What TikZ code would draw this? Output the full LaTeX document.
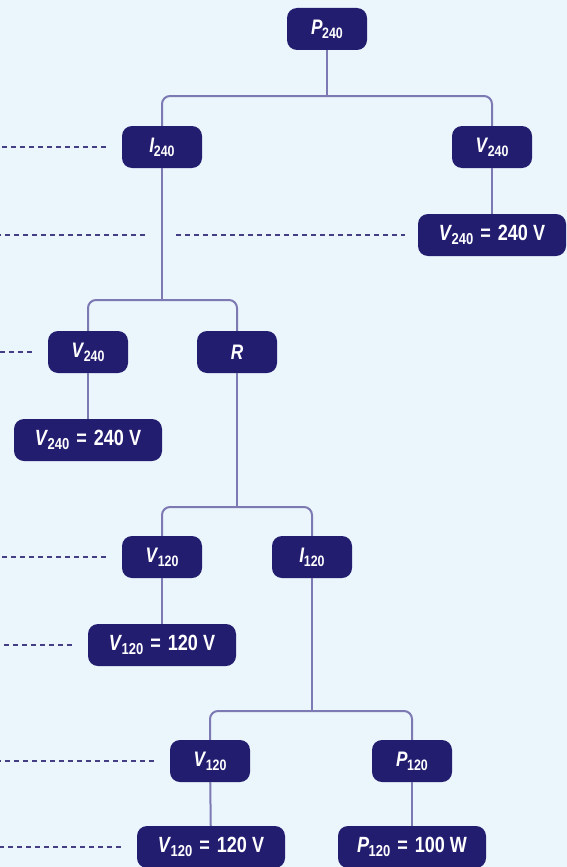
\documentclass[tikz,border=0pt]{standalone}
\usepackage{fontspec}
\setmainfont{Liberation Sans}[FakeStretch=0.82]
\usepackage{xcolor}
\definecolor{boxblue}{HTML}{231D70}
\definecolor{linkpurple}{HTML}{7D79B3}
\definecolor{paleblue}{HTML}{EAF5FC}
\newcommand{\varsub}[2]{\textit{#1}\kern-0.5pt\raisebox{-0.2em}{\scalebox{0.72}{#2}}}
\newcommand{\equal}{\hspace{7pt}=\hspace{7pt}}

\begin{document}
\begin{tikzpicture}[x=1pt,y=-1pt,
  box/.style={fill=boxblue,text=white,rounded corners=10pt,minimum width=80pt,minimum height=42pt,inner sep=0pt,font=\fontsize{21}{21}\selectfont\bfseries},
  wide/.style={box,minimum width=148pt,font=\fontsize{22}{22}\selectfont\bfseries},
  link/.style={draw=linkpurple,line width=2pt,rounded corners=8pt},
  guide/.style={draw=boxblue!85,line width=1.1pt,dash pattern=on 5pt off 4pt}]
\fill[paleblue] (0,0) rectangle (567,867);
\useasboundingbox (0,0) rectangle (567,867);
\coordinate (edge) at (0,0);
\node[box] (P240) at (327,29) {\varsub{P}{240}};
\node[box] (I240) at (162,147) {\varsub{I}{240}};
\node[box] (V240b) at (492,147) {\varsub{V}{240}};
\node[wide] (V240bv) at (492,235) {\varsub{V}{240}\equal 240 V};
\node[box] (V240a) at (88,352) {\varsub{V}{240}};
\node[box] (R) at (237,352) {\textit{R}};
\node[wide] (V240av) at (88,440) {\varsub{V}{240}\equal 240 V};
\node[box] (V120a) at (162,557) {\varsub{V}{120}};
\node[box] (I120) at (312,557) {\varsub{I}{120}};
\node[wide] (V120av) at (162,645) {\varsub{V}{120}\equal 120 V};
\node[box] (V120b) at (210,761) {\varsub{V}{120}};
\node[box] (P120) at (412,761) {\varsub{P}{120}};
\node[wide] (V120bv) at (211,847) {\varsub{V}{120}\equal 120 V};
\node[wide] (P120v) at (412,847) {\varsub{P}{120}\equal 100 W};
\coordinate (b1) at (327,96);
\coordinate (b2) at (162,300);
\coordinate (b3) at (237,507);
\coordinate (b4) at (312,711);
\draw[link] (P240) -- (b1);
\draw[link] (I240) |- (b1) -| (V240b);
\draw[link] (V240b) -- (V240bv);
\draw[link] (I240) -- (b2);
\draw[link] (V240a) |- (b2) -| (R);
\draw[link] (V240a) -- (V240av);
\draw[link] (R) -- (b3);
\draw[link] (V120a) |- (b3) -| (I120);
\draw[link] (V120a) -- (V120av);
\draw[link] (I120) -- (b4);
\draw[link] (V120b) |- (b4) -| (P120);
\draw[link] (V120b) -- (V120bv);
\draw[link] (P120) -- (P120v);
\foreach \n in {I240,V240a,V120a,V120av,V120b,V120bv}
  \draw[guide] ([xshift=-16pt]\n.west) -- (\n.west -| edge);
\draw[guide] ([xshift=-17pt]I240.center |- V240bv) -- (V240bv -| edge);
\draw[guide] ([xshift=14pt]I240.center |- V240bv) -- ([xshift=-13pt]V240bv.west);
\end{tikzpicture}
\end{document}
